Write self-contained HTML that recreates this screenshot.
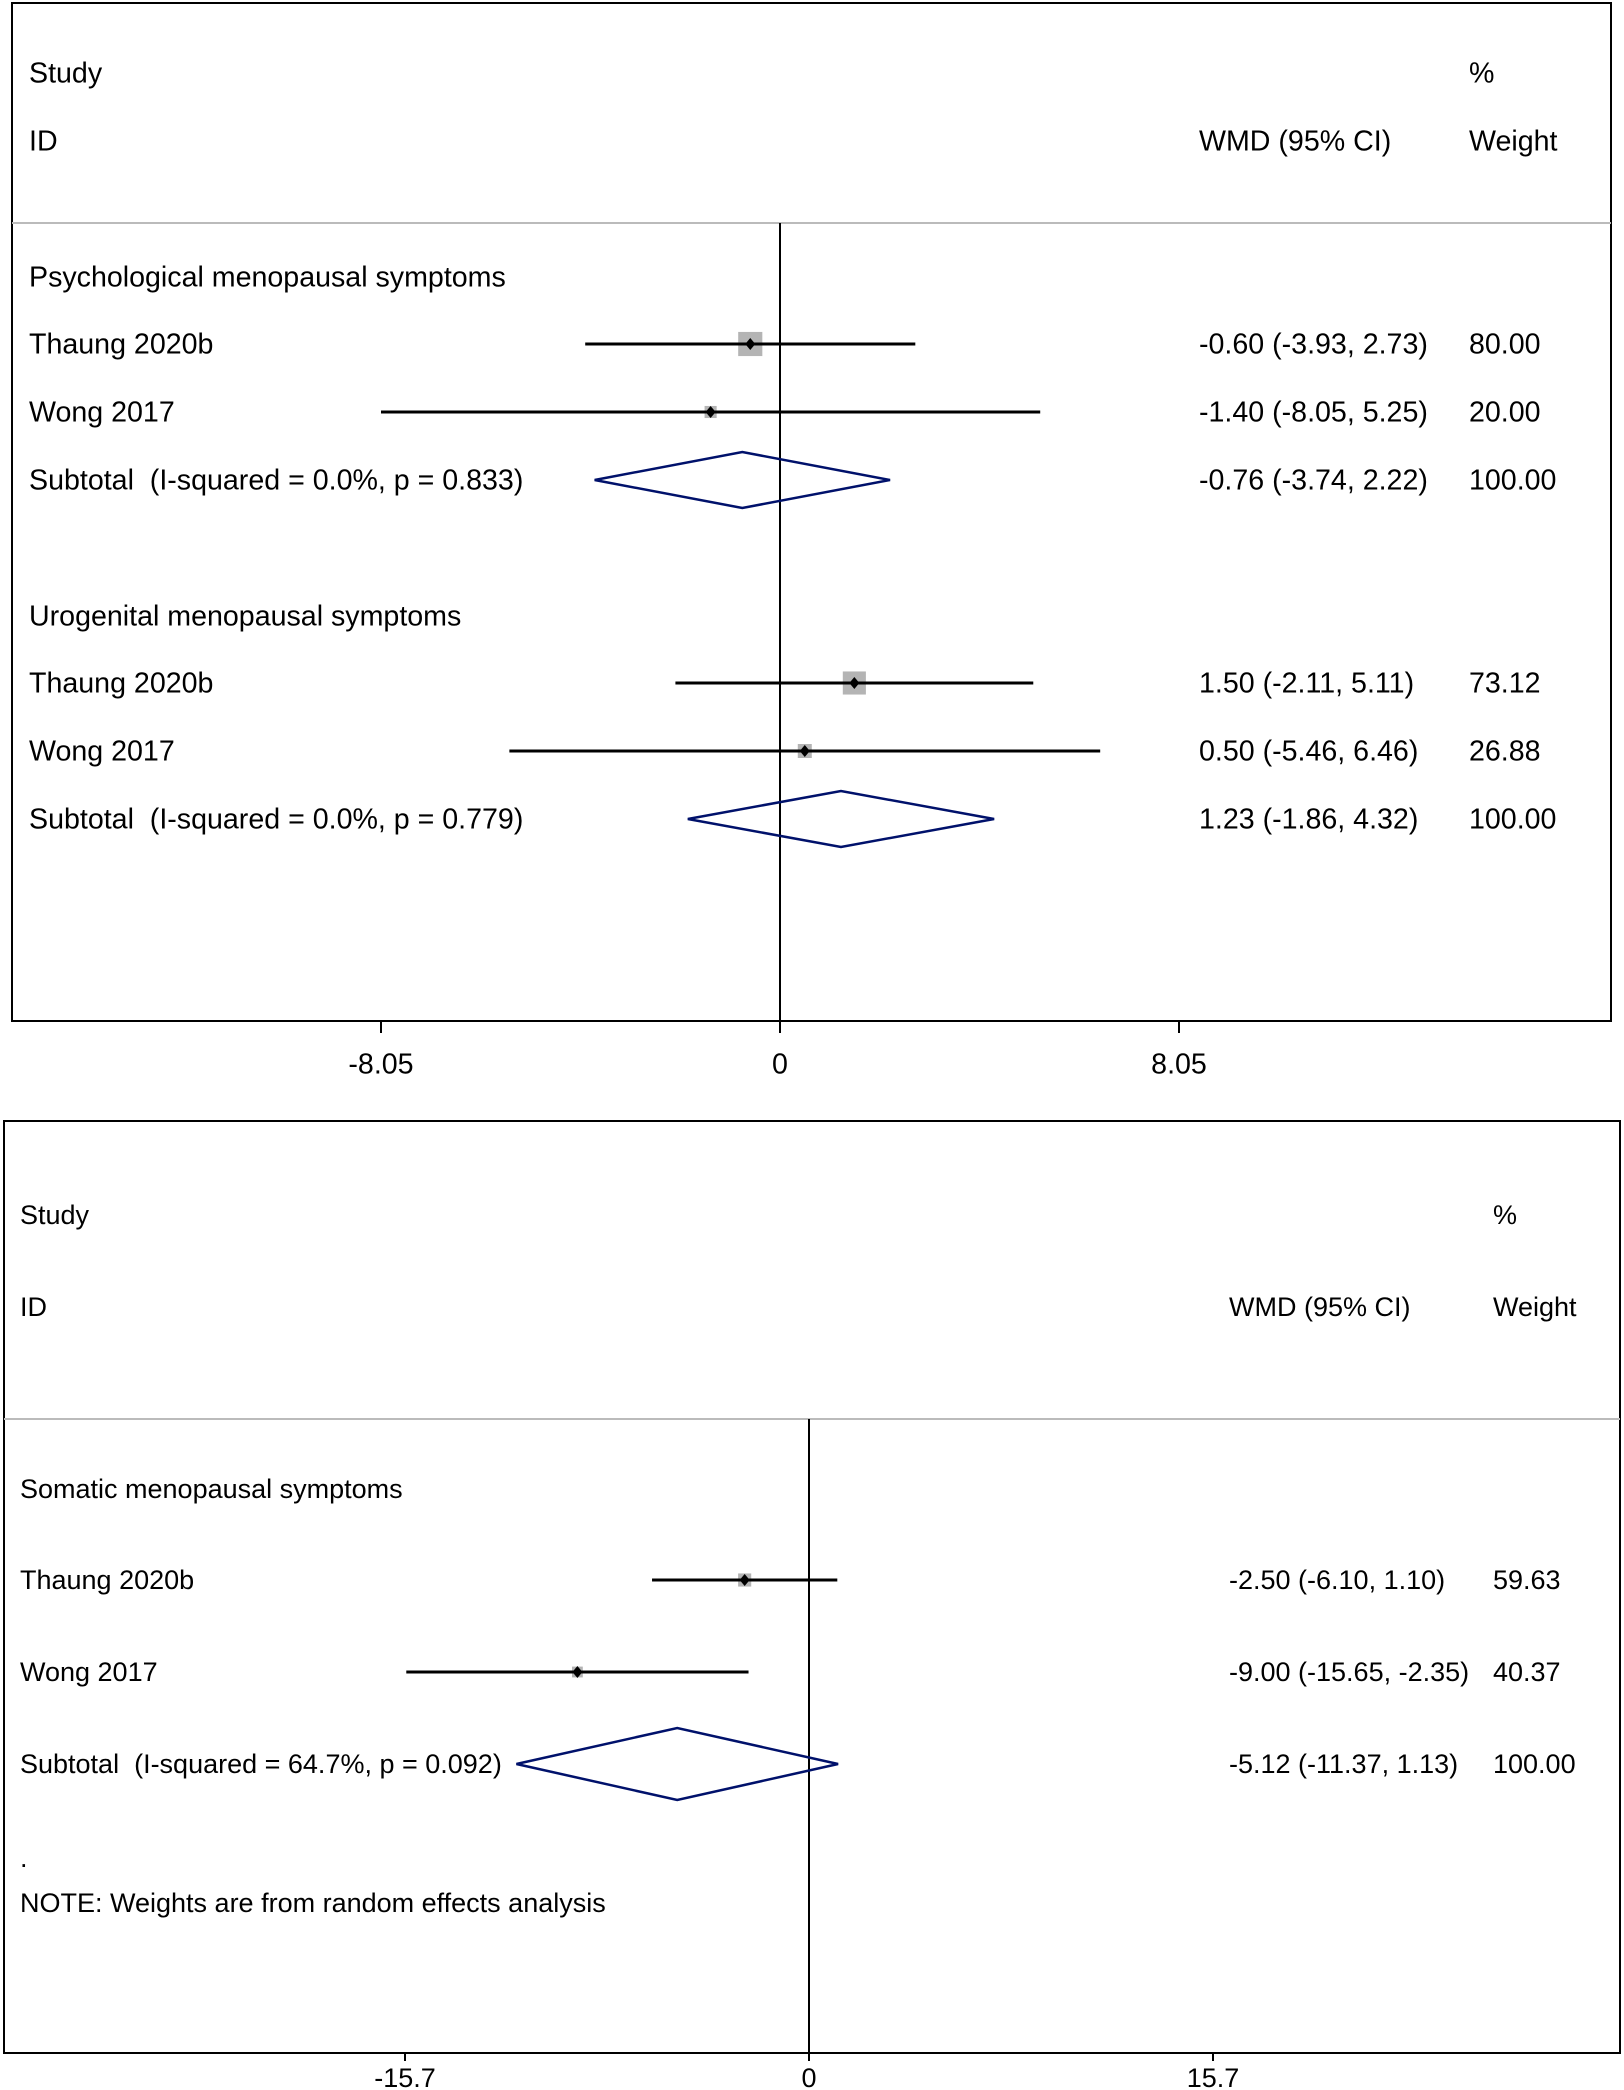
<!DOCTYPE html>
<html><head><meta charset="utf-8">
<style>
html,body{margin:0;padding:0;background:#fff;}
svg{display:block;}
text{font-family:"Liberation Sans",Arial,sans-serif;font-size:28.6px;fill:#000;white-space:pre;}
</style></head>
<body>
<svg id="chart" width="1624" height="2090" viewBox="0 0 1624 2090" xmlns="http://www.w3.org/2000/svg"></svg>
<script>
// Panel 1 data
const p1Labels = ["Thaung 2020b","Wong 2017","Subtotal\u00a0\u00a0(I-squared = 0.0%, p = 0.833)","Thaung 2020b","Wong 2017","Subtotal\u00a0\u00a0(I-squared = 0.0%, p = 0.779)"];
const p1Est = [-0.60,-1.40,-0.76,1.50,0.50,1.23];
const p1Lo = [-3.93,-8.05,-3.74,-2.11,-5.46,-1.86];
const p1Hi = [2.73,5.25,2.22,5.11,6.46,4.32];
const p1Weight = ["80.00","20.00","100.00","73.12","26.88","100.00"];
const p1Wnum = [80.00,20.00,100,73.12,26.88,100];
const p1IsSub = [false,false,true,false,false,true];
const p1Ticks = [-8.05,0,8.05];
// Panel 2 data
const p2Labels = ["Thaung 2020b","Wong 2017","Subtotal\u00a0\u00a0(I-squared = 64.7%, p = 0.092)"];
const p2Est = [-2.50,-9.00,-5.12];
const p2Lo = [-6.10,-15.65,-11.37];
const p2Hi = [1.10,-2.35,1.13];
const p2Weight = ["59.63","40.37","100.00"];
const p2Wnum = [59.63,40.37,100];
const p2IsSub = [false,false,true];
const p2Ticks = [-15.7,0,15.7];

const NS="http://www.w3.org/2000/svg";
const svg=document.getElementById('chart');
function mk(tag,attrs,parent){const e=document.createElementNS(NS,tag);for(const k in attrs)e.setAttribute(k,attrs[k]);(parent||svg).appendChild(e);return e;}
function txt(x,y,s,name,anchor){const t=mk('text',{x:x,y:y+2,'dominant-baseline':'middle','text-anchor':anchor||'start'});t.textContent=s;


return t;}

function panel(cfg){
  const g=mk('g',{});
  
  
  g.style.fontSize=cfg.fs+'px';
  const X=v=>cfg.zeroX+v*cfg.ppu;
  const box=mk('rect',{x:cfg.left,y:cfg.top,width:cfg.right-cfg.left,height:cfg.bottom-cfg.top,fill:'none',stroke:'#000','stroke-width':2},g);
  
  
  const hl=mk('line',{x1:cfg.left,x2:cfg.right,y1:cfg.hdrLine,y2:cfg.hdrLine,stroke:'#bbb','stroke-width':2},g);
  
  
  const zl=mk('line',{x1:X(0),x2:X(0),y1:cfg.hdrLine,y2:cfg.bottom,stroke:'#000','stroke-width':2},g);
  
  
  const T=(x,y,s,n,a)=>{const t=txt(x,y,s,n,a);t.style.fontSize=cfg.fs+'px';g.appendChild(t);};
  T(cfg.textX,cfg.studyY,'Study','study-header');
  T(cfg.textX,cfg.idY,'ID','id-header');
  T(cfg.wmdX,cfg.idY,'WMD (95% CI)','wmd-header');
  T(cfg.wX,cfg.studyY,'%','percent-header');
  T(cfg.wX,cfg.idY,'Weight','weight-header');
  cfg.groups.forEach(gr=>T(cfg.textX,gr[1],gr[0],'subgroup-title'));
  cfg.labels.forEach((lab,i)=>{
    const y=cfg.rowY[i];
    T(cfg.textX,y,lab,cfg.isSub[i]?'subtotal-label':'study-label');
    const ci=cfg.est[i].toFixed(2)+' ('+cfg.lo[i].toFixed(2)+', '+cfg.hi[i].toFixed(2)+')';
    T(cfg.wmdX,y,ci,'effect-ci');
    T(cfg.wX,y,cfg.weight[i],'weight-value');
    if(cfg.isSub[i]){
      const h=cfg.dh/2;
      const d=mk('polygon',{points:`${X(cfg.lo[i])},${y} ${X(cfg.est[i])},${y-h} ${X(cfg.hi[i])},${y} ${X(cfg.est[i])},${y+h}`,fill:'none',stroke:'#00116b','stroke-width':2.5},g);
      
      
    } else {
      const s=cfg.sqK*Math.sqrt(cfg.wnum[i]);
      const sq=mk('rect',{x:X(cfg.est[i])-s/2,y:y-s/2,width:s,height:s,fill:'#b4b4b4'},g);
      
      
      const l=mk('line',{x1:X(cfg.lo[i]),x2:X(cfg.hi[i]),y1:y,y2:y,stroke:'#000','stroke-width':3},g);
      
      
      const pt=mk('polygon',{points:`${X(cfg.est[i])-5},${y} ${X(cfg.est[i])},${y-6} ${X(cfg.est[i])+5},${y} ${X(cfg.est[i])},${y+6}`,fill:'#000'},g);
      
      
    }
  });
  cfg.ticks.forEach(t=>{
    const tk=mk('line',{x1:X(t),x2:X(t),y1:cfg.bottom,y2:cfg.bottom+cfg.tickLen,stroke:'#000','stroke-width':2},g);
    
    
    T(X(t),cfg.tickY,String(t),'x-tick-label','middle');
  });
  (cfg.extra||[]).forEach(e=>T(cfg.textX,e[1],e[0],e[2]));
}

panel({name:'panel-psych-urogenital',fs:28.6,left:12,right:1611,top:3,bottom:1021,hdrLine:223,zeroX:780,ppu:399/8.05,
  textX:29,studyY:73,idY:141,wmdX:1199,wX:1469,tickY:1064,tickLen:12,dh:56,sqK:2.7,
  groups:[['Psychological menopausal symptoms',277],['Urogenital menopausal symptoms',616]],
  rowY:[344,412,480,683,751,819],labels:p1Labels,est:p1Est,lo:p1Lo,hi:p1Hi,weight:p1Weight,wnum:p1Wnum,isSub:p1IsSub,ticks:p1Ticks});

panel({name:'panel-somatic',fs:27,left:4,right:1620,top:1121,bottom:2053,hdrLine:1419,zeroX:809,ppu:404/15.7,
  textX:20,studyY:1215,idY:1307,wmdX:1229,wX:1493,tickY:2078,tickLen:8,dh:72,sqK:1.7,
  groups:[['Somatic menopausal symptoms',1489]],
  rowY:[1580,1672,1764],labels:p2Labels,est:p2Est,lo:p2Lo,hi:p2Hi,weight:p2Weight,wnum:p2Wnum,isSub:p2IsSub,ticks:p2Ticks,
  extra:[['.',1858,'dot-marker'],['NOTE: Weights are from random effects analysis',1903,'note-text']]});
</script>
</body></html>
